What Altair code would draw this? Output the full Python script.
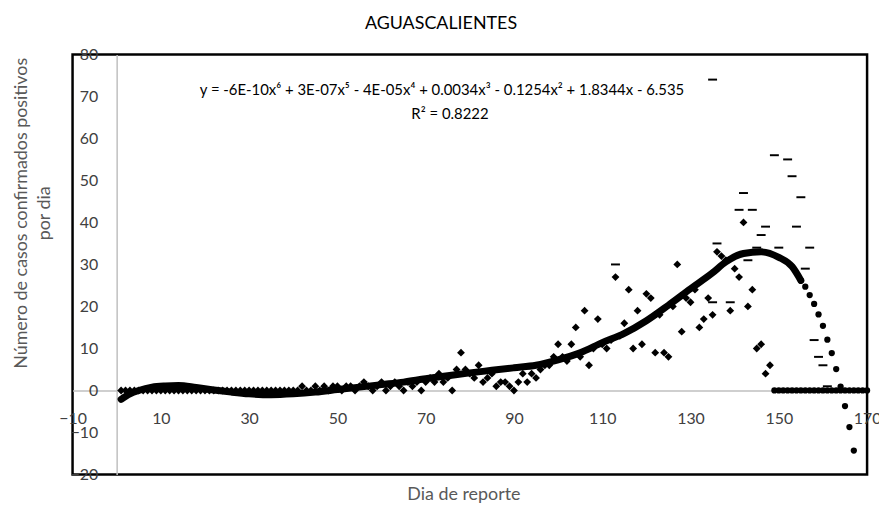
import altair as alt
import pandas as pd

# ---------------- texts ----------------
chart_title = "AGUASCALIENTES"
x_title = "Dia de reporte"
y_title_1 = "Número de casos confirmados positivos"
y_title_2 = "por dia"
equation = "y = -6E-10x⁶ + 3E-07x⁵ - 4E-05x⁴ + 0.0034x³ - 0.1254x² + 1.8344x - 6.535"
r2_text = "R² = 0.8222"

x_ticks = [-10, 10, 30, 50, 70, 90, 110, 130, 150, 170]
y_ticks = [-20, -10, 0, 10, 20, 30, 40, 50, 60, 70, 80]

# ---------------- data ----------------
# daily confirmed cases (diamonds)
case_days = list(range(1, 149))
case_values = (
    [0] * 40
    + [0, 1, 0, 0, 1, 0, 1, 0, 1, 1]          # 41-50
    + [0, 1, 1, 0, 1, 2, 1, 0, 1, 2]          # 51-60
    + [0, 1, 2, 1, 0, 2, 1, 2, 0, 2]          # 61-70
    + [3, 2, 4, 2, 3, 0, 5, 9, 5, 4]          # 71-80
    + [3, 6, 2, 3, 4, 1, 2, 2, 1, 0]          # 81-90
    + [2, 4, 2, 4, 3, 5, 6, 6, 8, 11]         # 91-100
    + [8, 7, 11, 15, 8, 19, 6, 10, 17, 11]    # 101-110
    + [10, 12, 27, 13, 16, 24, 10, 19, 11, 23]  # 111-120
    + [22, 9, 18, 9, 8, 20, 30, 14, 22, 21]   # 121-130
    + [24, 15, 17, 22, 18, 33, 32, 31, 19, 29]  # 131-140
    + [27, 40, 20, 24, 10, 11, 4, 6]          # 141-148
)

# later days plotted at zero (circles)
zero_days = list(range(149, 171))
zero_values = [0] * len(zero_days)

# dash markers
dash_days = [113, 135, 135, 136, 139, 141, 142, 143, 144, 145, 146, 147,
             149, 150, 152, 153, 154, 155, 156, 157, 158, 159, 160, 161]
dash_values = [30, 74, 21, 35, 21, 43, 47, 31, 43, 34, 37, 39,
               56, 34, 55, 51, 39, 46, 29, 34, 12, 8, 6, 1]

# polynomial trend (dense dots)
trend_days = [1, 3, 5, 8, 11, 14, 18, 22, 26, 30, 35, 40, 45, 50, 55, 60, 65,
              70, 75, 80, 85, 90, 95, 100, 105, 110, 115, 120, 125, 130, 135,
              138, 142, 146, 150, 153, 155]
trend_values = [-2.1, -0.8, 0.0, 0.8, 1.1, 1.2, 0.7, 0.1, -0.4, -0.8, -1.0,
                -0.8, -0.4, 0.2, 0.8, 1.4, 2.0, 2.8, 3.5, 4.2, 4.8, 5.4, 6.0,
                7.3, 9.0, 11.4, 13.6, 16.6, 20.3, 24.2, 28.0, 30.6, 32.6, 33.0,
                31.7, 29.5, 26.2]

# tail of the trend where the dots separate
tail_days = list(range(155, 168))
tail_values = [26.2, 24.7, 22.7, 20.6, 18.1, 15.4, 12.1, 8.9, 5.1, 0.9, -3.7, -8.7, -14.3]

cases_df = pd.DataFrame({"day": case_days, "value": case_values})
zeros_df = pd.DataFrame({"day": zero_days, "value": zero_values})
dash_df = pd.DataFrame({"day": dash_days, "value": dash_values})
trend_df = pd.DataFrame({"day": trend_days, "value": trend_values})
tail_df = pd.DataFrame({"day": tail_days, "value": tail_values})

# ---------------- encodings ----------------
W, H = 800, 423
FONT = "Lato"

x_enc = alt.X(
    "day:Q",
    scale=alt.Scale(domain=[-10, 170], nice=False, zero=False),
    axis=alt.Axis(
        values=x_ticks, orient="bottom", offset=-84.6, title=None,
        domainColor="#BFBFBF", domainWidth=1.5, ticks=False, tickSize=0,
        grid=False, labelPadding=20, labelFont=FONT, labelFontSize=16,
        labelColor="#404040", labelFlush=False, labelOverlap=False,
        labelBound=False,
    ),
)
y_enc = alt.Y(
    "value:Q",
    scale=alt.Scale(domain=[-20, 80], nice=False, zero=False),
    axis=alt.Axis(
        values=y_ticks, orient="left", offset=-44.4, title=None,
        domainColor="#BFBFBF", domainWidth=1.5, ticks=False, tickSize=0,
        grid=False, labelPadding=19, labelFont=FONT, labelFontSize=16,
        labelColor="#404040", labelFlush=False, labelOverlap=False,
        labelBound=False,
    ),
)

trend_line = alt.Chart(trend_df).mark_line(
    color="black", strokeWidth=7, interpolate="monotone", strokeCap="round"
).encode(x=x_enc, y=y_enc)

tail_pts = alt.Chart(tail_df).mark_point(
    shape="circle", filled=True, color="black", size=40, opacity=1
).encode(x="day:Q", y="value:Q")

zero_pts = alt.Chart(zeros_df).mark_point(
    shape="circle", filled=True, color="black", size=40, opacity=1
).encode(x="day:Q", y="value:Q")

case_pts = alt.Chart(cases_df).mark_point(
    shape="diamond", filled=True, color="black", size=62, opacity=1
).encode(x="day:Q", y="value:Q")

dash_pts = alt.Chart(dash_df).mark_point(
    shape="M-1,-0.22L1,-0.22L1,0.22L-1,0.22Z", filled=True, color="black",
    size=81, opacity=1
).encode(x="day:Q", y="value:Q")


def label(txt, x, y, size, color, angle=0):
    return alt.Chart(alt.Data(values=[{}])).mark_text(
        text=txt, font=FONT, fontSize=size, color=color, angle=angle,
        align="center", baseline="middle",
    ).encode(x=alt.value(x), y=alt.value(y))


texts = [
    label(chart_title, 371, -31, 18, "#000000"),
    label(equation, 372, 36, 15, "#000000"),
    label(r2_text, 380, 60, 15, "#000000"),
    label(x_title, 394, 444, 18, "#595959"),
    label(y_title_1, -51, 160, 18, "#595959", angle=270),
    label(y_title_2, -28, 160, 18, "#595959", angle=270),
]

chart = alt.layer(trend_line, tail_pts, zero_pts, case_pts, dash_pts, *texts).properties(
    width=W, height=H,
    background="white",
    autosize=alt.AutoSizeParams(type="none"),
    padding={"left": 65, "top": 45, "right": 12, "bottom": 30},
).configure_view(stroke="black", strokeWidth=2.5)

chart.save("out.html", embed_options={"renderer": "svg", "actions": False})
